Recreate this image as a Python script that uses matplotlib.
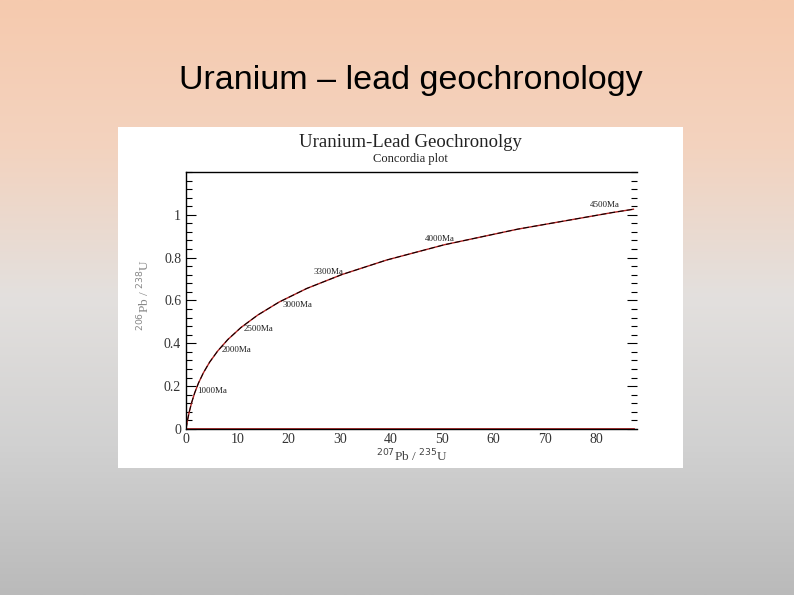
import numpy as np
import matplotlib
matplotlib.use('Agg')
import matplotlib.pyplot as plt
from matplotlib.colors import LinearSegmentedColormap
from matplotlib.ticker import MultipleLocator

# concordia points (207Pb/235U, 206Pb/238U)
pb207_u235 = [0.0, 0.28, 0.64, 1.09, 1.68, 2.42, 3.38, 4.60, 6.17, 8.17, 10.73,
              14.0, 18.19, 23.55, 30.41, 39.17, 50.38, 64.72, 83.07, 87.3]
pb206_u238 = [0.0, 0.040, 0.081, 0.123, 0.168, 0.214, 0.262, 0.312, 0.364, 0.418, 0.474,
              0.532, 0.593, 0.656, 0.721, 0.789, 0.860, 0.933, 1.010, 1.026]

# age labels and where they sit
age_labels = ['1000Ma', '2000Ma', '2500Ma', '3000Ma', '3300Ma', '4000Ma', '4500Ma']
label_x = [2.1, 7.0, 11.3, 18.9, 24.8, 46.6, 78.8]
label_y = [0.177, 0.367, 0.465, 0.581, 0.735, 0.888, 1.047]

# flat line along the bottom
base_x = [0.0, 87.3]
base_y = [0.0, 0.0]

fig = plt.figure(figsize=(7.94, 5.95), dpi=100)

# slide background gradient
bg = fig.add_axes([0, 0, 1, 1])
cmap = LinearSegmentedColormap.from_list('slide', [
    (0.0, '#f6caae'), (0.25, '#f3d3bf'), (0.5, '#e3e0de'),
    (0.75, '#d1d1d1'), (1.0, '#bababa')])
grad = np.linspace(0, 1, 256).reshape(-1, 1)
bg.imshow(grad, aspect='auto', cmap=cmap, extent=[0, 1, 0, 1], origin='upper')
bg.set_xlim(0, 1)
bg.set_ylim(0, 1)
bg.axis('off')

fig.text(0.517, 0.864, 'Uranium \u2013 lead geochronology', ha='center', va='center',
         fontsize=24.5, family='Liberation Sans', color='black')

# white picture box
box = fig.add_axes([0.1486, 0.2134, 0.7116, 0.5731])
box.set_facecolor('white')
box.set_xticks([])
box.set_yticks([])
for s in box.spines.values():
    s.set_visible(False)

fig.text(0.517, 0.760, 'Uranium-Lead Geochronolgy', ha='center', va='center',
         fontsize=13.5, family='Liberation Serif', color='#222222')
fig.text(0.517, 0.733, 'Concordia plot', ha='center', va='center',
         fontsize=9, family='Liberation Serif', color='#222222')

ax = fig.add_axes([0.2343, 0.279, 0.568, 0.432])
ax.set_facecolor('none')
ax.plot(pb207_u235, pb206_u238, color='#b02020', lw=1.0)
ax.plot(pb207_u235, pb206_u238, color='black', lw=0.7, ls=(0, (6, 3)))
ax.plot(base_x, base_y, color='#b02020', lw=2.0)
ax.plot(base_x, base_y, color='black', lw=0.6, ls=(0, (2, 3)))

for t, x, y in zip(age_labels, label_x, label_y):
    ax.text(x, y, t, fontsize=6.5, family='Liberation Serif', color='#222222',
            va='center', ha='left')

ax.set_xlim(0, 88)
ax.set_ylim(0, 1.2)
ax.xaxis.set_major_locator(MultipleLocator(10))
ax.yaxis.set_minor_locator(MultipleLocator(0.04))
ax.set_yticks([0, 0.2, 0.4, 0.6, 0.8, 1.0])
ax.set_yticklabels(['0', '0.2', '0.4', '0.6', '0.8', '1'])
ax.tick_params(axis='y', which='both', direction='in', right=True, left=True)
ax.tick_params(axis='y', which='major', length=7, width=0.8)
ax.tick_params(axis='y', which='minor', length=4, width=0.8)
ax.tick_params(axis='x', which='both', length=0, pad=3)
ax.tick_params(labelsize=10, labelcolor='#333333')
for lab in ax.get_xticklabels() + ax.get_yticklabels():
    lab.set_family('Liberation Serif')
ax.spines['right'].set_visible(False)
ax.spines['top'].set_linewidth(1.0)
ax.spines['left'].set_linewidth(1.0)
ax.spines['bottom'].set_linewidth(1.0)

ax.set_xlabel(r'$^{207}$Pb / $^{235}$U', fontsize=9.5, family='Liberation Serif',
              color='#444444', labelpad=1)
ax.set_ylabel(r'$^{206}$Pb / $^{238}$U', fontsize=9.5, family='Liberation Serif',
              color='#888888')
ax.yaxis.set_label_coords(-0.075, 0.52)

fig.savefig('out.png', dpi=100)
